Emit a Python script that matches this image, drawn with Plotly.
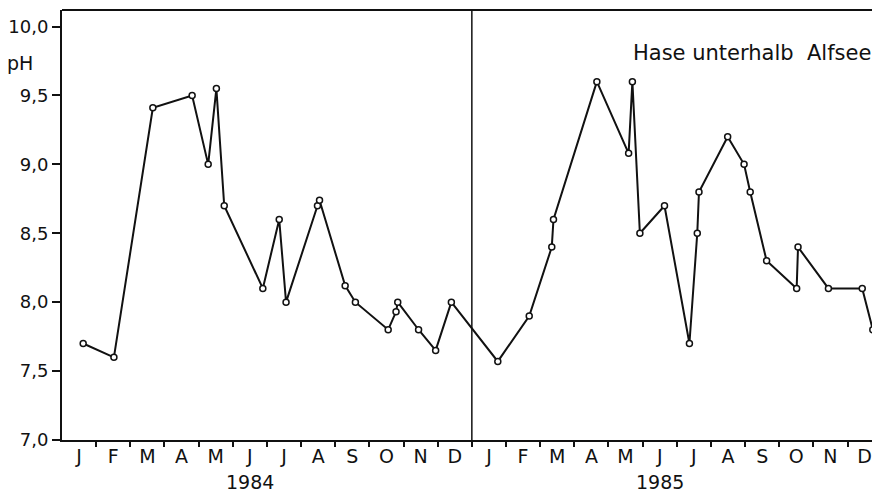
import plotly.graph_objects as go

# Sampling times in months since 1 Jan 1984 (0..24) and measured pH values
sample_month = [0.62, 1.52, 2.66, 3.81, 4.28, 4.52, 4.75, 5.88, 6.36, 6.56,
                7.48, 7.54, 8.29, 8.59, 9.55, 9.78, 9.83, 10.44, 10.94, 11.40,
                12.76, 13.68, 14.34, 14.39, 15.66, 16.59, 16.70, 16.92, 17.64,
                18.37, 18.60, 18.65, 19.49, 19.97, 20.15, 20.63, 21.51, 21.55,
                22.44, 23.43, 23.74]
ph_values = [7.70, 7.60, 9.41, 9.50, 9.00, 9.55, 8.70, 8.10, 8.60, 8.00,
             8.70, 8.74, 8.12, 8.00, 7.80, 7.93, 8.00, 7.80, 7.65, 8.00,
             7.57, 7.90, 8.40, 8.60, 9.60, 9.08, 9.60, 8.50, 8.70,
             7.70, 8.50, 8.80, 9.20, 9.00, 8.80, 8.30, 8.10, 8.40,
             8.10, 8.10, 7.80]

month_letters = ["J", "F", "M", "A", "M", "J", "J", "A", "S", "O", "N", "D"]
years = ["1984", "1985"]
y_ticks = [7.0, 7.5, 8.0, 8.5, 9.0, 9.5, 10.0]
y_tick_text = ["7,0", "7,5", "8,0", "8,5", "9,0", "9,5", "10,0"]
station = "Hase unterhalb  Alfsee"

FONT = "DejaVu Sans"
INK = "#111111"
FS = 19

X_MAX = 23.95
Y_MIN, Y_MAX = 7.0, 10.12

fig = go.Figure()
fig.add_trace(go.Scatter(
    x=sample_month, y=ph_values, mode="lines+markers",
    line=dict(color=INK, width=2),
    marker=dict(symbol="circle", size=6, color="white",
                line=dict(color=INK, width=1.5)),
    showlegend=False, hoverinfo="x+y",
))

# dummy trace on overlay axis for month-centre labels
centres = [i + 0.5 for i in range(24)]
fig.add_trace(go.Scatter(x=centres, y=[None] * 24, xaxis="x2",
                         showlegend=False, hoverinfo="skip"))

fig.update_layout(
    width=872, height=485,
    margin=dict(l=54, r=0, t=2, b=53, autoexpand=False),
    paper_bgcolor="white", plot_bgcolor="white",
    font=dict(family=FONT, size=FS, color=INK),
    xaxis=dict(range=[0, X_MAX], tickvals=list(range(1, 24)),
               showticklabels=False, ticks="outside", ticklen=5,
               tickwidth=1.5, tickcolor=INK, showline=True, automargin=False,
               linecolor=INK, linewidth=2, showgrid=False, zeroline=False),
    xaxis2=dict(range=[0, X_MAX], overlaying="x", side="bottom",
                tickvals=centres, ticktext=month_letters * 2, ticks="",
                showline=False, showgrid=False, zeroline=False, automargin=False,
                ticklabelstandoff=3,
                tickfont=dict(family=FONT, size=FS, color=INK)),
    yaxis=dict(range=[Y_MIN, Y_MAX], tickvals=y_ticks, ticktext=y_tick_text,
               ticks="outside", ticklen=8, tickwidth=1.5, tickcolor=INK,
               showline=True, linecolor=INK, linewidth=2, showgrid=False,
               automargin=False, zeroline=False,
               tickfont=dict(family=FONT, size=18, color=INK)),
)

# top border and year separator
fig.add_shape(type="line", xref="x", yref="paper", x0=0, x1=X_MAX, y0=1, y1=1,
              line=dict(color=INK, width=2))
fig.add_shape(type="line", xref="x", yref="paper", x0=12, x1=12, y0=-0.012, y1=1,
              line=dict(color=INK, width=1.5))

# year labels under June of each year
for i, yr in enumerate(years):
    fig.add_annotation(x=5.5 + 12 * i, xref="x", y=-0.098, yref="paper",
                       text=yr, showarrow=False, yanchor="middle",
                       font=dict(family=FONT, size=FS, color=INK))

fig.add_annotation(x=0.991, xref="paper", y=0.9, yref="paper", text=station,
                   showarrow=False, xanchor="right", yanchor="middle",
                   font=dict(family=FONT, size=21, color=INK))
fig.add_annotation(x=-0.051, xref="paper", y=0.877, yref="paper", text="pH",
                   showarrow=False, xanchor="center", yanchor="middle",
                   font=dict(family=FONT, size=FS, color=INK))

fig.write_html("out.html")
